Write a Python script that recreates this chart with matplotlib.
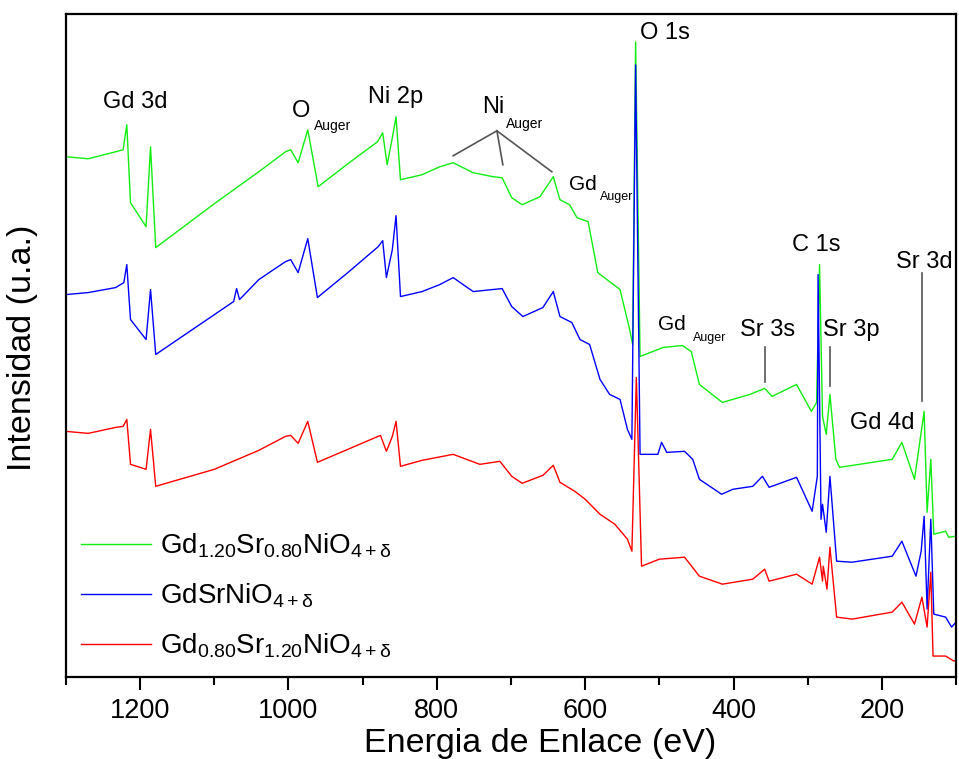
import matplotlib
matplotlib.use("Agg")
import matplotlib.pyplot as plt

plt.rcParams["font.family"] = ["Liberation Sans", "DejaVu Sans"]
plt.rcParams["mathtext.fontset"] = "custom"
plt.rcParams["mathtext.rm"] = "Liberation Sans"
plt.rcParams["mathtext.it"] = "Liberation Sans:italic"
plt.rcParams["mathtext.bf"] = "Liberation Sans:bold"

# energias de enlace (eV) e intensidades (u.a.)
E_g = [1300, 1270, 1233, 1223, 1218, 1213, 1192, 1186, 1179, 1100, 1040, 1004, 997, 987,
       974, 960, 920, 880, 873, 867, 860, 855, 849, 820, 796, 778, 751, 724, 712, 699,
       685, 661, 643, 634, 621, 611, 596, 583, 553, 540, 536, 532, 526, 495, 469, 457,
       446, 415, 378, 358, 348, 315, 295, 288, 284, 280, 275, 270, 262, 257, 186, 173,
       156, 143, 139, 134, 130, 114, 110, 100]
I_g = [521, 519, 526, 528, 553, 475, 451, 531, 430, 474, 506, 526, 528, 515,
       548, 491, 514, 536, 545, 513, 540, 561, 498, 503, 511, 515, 505, 501, 500, 480,
       473, 481, 501, 478, 473, 460, 456, 405, 388, 348, 333, 636, 321, 330, 332, 326,
       293, 275, 283, 289, 281, 293, 266, 275, 413, 261, 243, 283, 218, 210, 218, 235,
       198, 266, 165, 218, 143, 146, 140, 141]

E_b = [1300, 1270, 1233, 1222, 1218, 1213, 1192, 1186, 1179, 1074, 1070, 1066, 1040, 1004,
       997, 987, 974, 961, 920, 879, 873, 868, 860, 855, 849, 820, 796, 778, 751, 712,
       699, 684, 657, 643, 634, 618, 607, 594, 580, 567, 553, 543, 537, 532, 526, 502,
       497, 490, 466, 455, 446, 416, 401, 374, 361, 352, 315, 294, 287, 286, 282, 280,
       275, 270, 261, 240, 186, 173, 154, 147, 143, 139, 134, 130, 114, 106, 100]
I_b = [383, 385, 390, 395, 413, 358, 338, 388, 323, 376, 389, 378, 398, 416,
       418, 405, 439, 380, 405, 431, 437, 400, 428, 462, 381, 386, 393, 400, 386, 389,
       371, 361, 370, 386, 361, 355, 338, 333, 298, 283, 278, 248, 238, 613, 223, 223,
       235, 225, 226, 218, 198, 183, 188, 191, 201, 190, 200, 166, 201, 403, 158, 173,
       145, 201, 116, 115, 121, 136, 101, 126, 161, 68, 158, 63, 60, 50, 55]

E_r = [1300, 1270, 1233, 1223, 1218, 1213, 1192, 1186, 1179, 1100, 1040, 1004, 997, 987,
       974, 961, 920, 876, 868, 860, 855, 849, 820, 778, 742, 715, 699, 685, 657, 643,
       634, 614, 600, 580, 560, 543, 537, 531, 524, 500, 466, 446, 415, 374, 358, 352,
       315, 294, 284, 280, 279, 274, 270, 261, 240, 186, 173, 156, 146, 139, 134, 131,
       114, 103, 100]
I_r = [246, 244, 250, 251, 258, 213, 208, 248, 191, 208, 227, 241, 242, 234,
       256, 215, 228, 242, 226, 241, 256, 211, 217, 223, 213, 216, 201, 194, 202, 212,
       195, 186, 178, 163, 153, 138, 126, 300, 111, 118, 120, 101, 93, 98, 108, 96,
       103, 93, 120, 96, 111, 88, 130, 60, 58, 65, 75, 53, 80, 50, 105, 21,
       21, 16, 17]

labels = [r"Gd$_{\mathrm{1.20}}$Sr$_{\mathrm{0.80}}$NiO$_{\mathrm{4+\delta}}$",
          r"GdSrNiO$_{\mathrm{4+\delta}}$",
          r"Gd$_{\mathrm{0.80}}$Sr$_{\mathrm{1.20}}$NiO$_{\mathrm{4+\delta}}$"]
colors = ["#11ee11", "#0000ff", "#ff0000"]

fig = plt.figure(figsize=(9.59, 7.59), dpi=100)
ax = fig.add_axes([0.0688, 0.108, 0.9281, 0.8736])

ax.plot(E_g, I_g, color=colors[0], lw=1.0, label=labels[0])
ax.plot(E_b, I_b, color=colors[1], lw=1.0, label=labels[1])
ax.plot(E_r, I_r, color=colors[2], lw=1.0, label=labels[2])

ax.set_xlim(1300, 100)
ax.set_ylim(0, 664)
ax.set_xticks([1200, 1000, 800, 600, 400, 200])
ax.set_xticks(range(1300, 99, -100), minor=True)
ax.set_yticks([])
ax.tick_params(axis="x", which="major", direction="out", length=9, width=1.5, labelsize=19.5, pad=6)
ax.tick_params(axis="x", which="minor", direction="out", length=6, width=1.5)
for s in ax.spines.values():
    s.set_linewidth(1.6)
ax.set_xlabel("Energia de Enlace (eV)", fontsize=24.5)
ax.set_ylabel("Intensidad (u.a.)", fontsize=24.5)
ax.xaxis.set_label_coords(0.533, -0.077)
ax.yaxis.set_label_coords(-0.031, 0.496)

# etiquetas de los picos
big = 17
ax.text(1206, 576, "Gd 3d", fontsize=big, ha="center", va="center")
ax.text(995, 567, "O", fontsize=big, ha="left", va="center")
ax.text(966, 552, "Auger", fontsize=10, ha="left", va="center")
ax.text(856, 581, "Ni 2p", fontsize=big, ha="center", va="center")
ax.text(739, 571, "Ni", fontsize=big, ha="left", va="center")
ax.text(707, 554, "Auger", fontsize=10, ha="left", va="center")
ax.text(622, 493, "Gd", fontsize=15, ha="left", va="center")
ax.text(580, 481, "Auger", fontsize=9, ha="left", va="center")
ax.text(526, 645, "O 1s", fontsize=big, ha="left", va="center")
ax.text(288, 433, "C 1s", fontsize=big, ha="center", va="center")
ax.text(143, 416, "Sr 3d", fontsize=big, ha="center", va="center")
ax.text(502, 353, "Gd", fontsize=15, ha="left", va="center")
ax.text(455, 340, "Auger", fontsize=9, ha="left", va="center")
ax.text(354, 348, "Sr 3s", fontsize=big, ha="center", va="center")
ax.text(280, 348, "Sr 3p", fontsize=big, ha="left", va="center")
ax.text(200, 254, "Gd 4d", fontsize=big, ha="center", va="center")

gray = "#555555"
for e_end, i_end in [(778, 522), (711, 513), (645, 506)]:
    ax.plot([719, e_end], [547, i_end], color=gray, lw=1.2)
ax.plot([358, 358], [330, 295], color=gray, lw=1.2)
ax.plot([270, 270], [330, 291], color=gray, lw=1.2)
ax.plot([146, 146], [405, 276], color=gray, lw=1.2)

ax.legend(loc="lower left", bbox_to_anchor=(0.017, 0.0255), frameon=False,
          fontsize=20, handlelength=2.5, handletextpad=0.35, labelspacing=0.78,
          borderaxespad=0, borderpad=0)

fig.savefig("out.png", dpi=100)
